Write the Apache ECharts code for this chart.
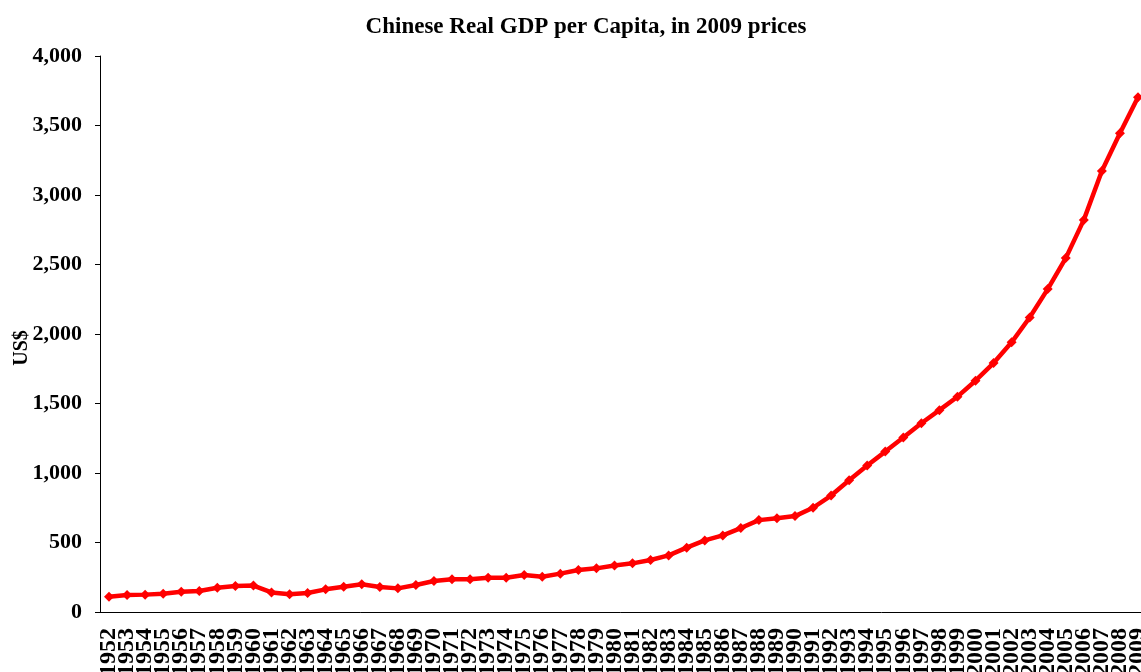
<!DOCTYPE html>
<html>
<head>
<meta charset="utf-8">
<script src="https://cdn.jsdelivr.net/npm/echarts@6/dist/echarts.min.js"></script>
<style>html,body{margin:0;padding:0;background:#fff;}#c{width:1141px;height:672px;}</style>
</head>
<body>
<div id="c"></div>
<script>
var years = [];
for (var y = 1952; y <= 2009; y++) years.push(String(y));
var gdpPerCapita = [
  110, 122, 125, 132, 146, 151, 175, 187, 190, 141,
  127, 137, 163, 182, 199, 180, 170, 194, 223, 235,
  235, 247, 247, 266, 254, 276, 302, 314, 335, 350,
  374, 407, 463, 515, 551, 604, 661, 675, 690, 750,
  838, 948, 1054, 1154, 1255, 1358, 1452, 1549, 1664, 1791,
  1940, 2119, 2323, 2546, 2821, 3173, 3444, 3703
];
var yTicks = [0, 500, 1000, 1500, 2000, 2500, 3000, 3500, 4000];

var font = '"Liberation Serif", "Times New Roman", serif';
var chart = echarts.init(document.getElementById('c'));
chart.setOption({
  backgroundColor: '#fff',
  animation: false,
  title: {
    text: 'Chinese Real GDP per Capita, in 2009 prices',
    left: 581, top: 11, textAlign: 'center',
    textStyle: { fontFamily: font, fontWeight: 'bold', fontSize: 23, color: '#000' }
  },
  grid: { left: 100, top: 56, width: 1047, height: 556, outerBoundsMode: 'none', containLabel: false },
  xAxis: {
    type: 'category',
    data: years,
    boundaryGap: true,
    axisLine: { lineStyle: { color: '#000', width: 1 } },
    axisTick: { interval: 0, length: 6, lineStyle: { color: '#000' } },
    axisLabel: {
      interval: 0, rotate: 90, margin: 16, hideOverlap: false,
      fontFamily: font, fontWeight: 'bold', fontSize: 24, color: '#000'
    },
    splitLine: { show: false }
  },
  yAxis: {
    type: 'value',
    min: yTicks[0], max: yTicks[yTicks.length - 1], interval: 500,
    name: 'US$',
    nameLocation: 'middle',
    nameGap: 68,
    nameRotate: 90,
    nameMoveOverlap: false,
    nameTextStyle: { fontFamily: font, fontWeight: 'bold', fontSize: 20, color: '#000', padding: [0, 28, 0, 0] },
    axisLine: { show: true, lineStyle: { color: '#000', width: 1 } },
    axisTick: { show: true, length: 5, lineStyle: { color: '#000' } },
    axisLabel: {
      margin: 18,
      fontFamily: font, fontWeight: 'bold', fontSize: 22, color: '#000',
      formatter: function (v) { return v.toLocaleString('en-US'); }
    },
    splitLine: { show: false }
  },
  series: [{
    type: 'line',
    data: gdpPerCapita,
    lineStyle: { color: '#ff0000', width: 4.5 },
    itemStyle: { color: '#ff0000' },
    symbol: 'diamond',
    symbolSize: 10,
    showSymbol: true
  }]
});
</script>
</body>
</html>
